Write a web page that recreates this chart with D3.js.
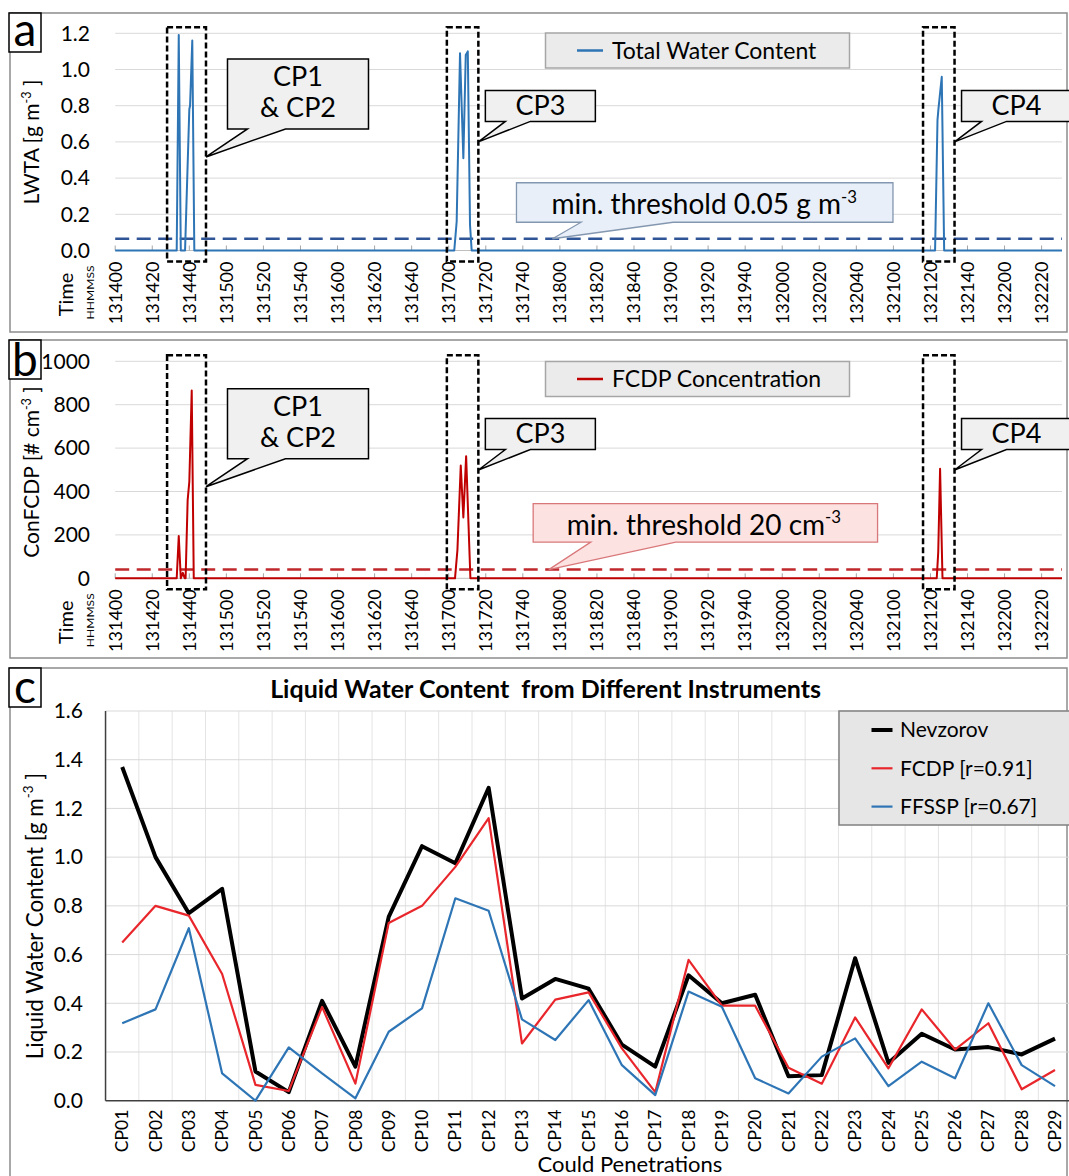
<!DOCTYPE html>
<html>
<head>
<meta charset="utf-8">
<script src="https://cdn.jsdelivr.net/npm/d3@7"></script>
<style>
  body { margin: 0; background: #fff; }
  svg { display: block; }
  text { font-family: Lato, "Open Sans", sans-serif; fill: #000; }
</style>
</head>
<body>
<svg id="fig" width="1069" height="1176"></svg>
<script>
// ===== Data =====
// Panel a: total water content (LWTA) samples, g m-3
const lwtaTimes  = ['13:14:00', '13:14:33.2', '13:14:34.3', '13:14:35.4', '13:14:37.7', '13:14:40', '13:14:40.4', '13:14:41.6', '13:14:42.7',
                    '13:17:03', '13:17:04.3', '13:17:06.1', '13:17:07.9', '13:17:09.2', '13:17:10.3', '13:17:11.5', '13:17:12.4',
                    '13:21:22.5', '13:21:23.8', '13:21:24.3', '13:21:26.1', '13:21:27.4', '13:22:31'];
const lwtaValues = [0, 0, 1.19, 0, 0, 0.78, 0.80, 1.16, 0,
                    0, 0.16, 1.09, 0.51, 1.08, 1.10, 0.14, 0,
                    0, 0.72, 0.78, 0.96, 0, 0];

// Panel b: FCDP concentration samples, # cm-3
const fcdpTimes  = ['13:14:00', '13:14:33.2', '13:14:34.3', '13:14:35.4', '13:14:36.5', '13:14:37.5', '13:14:38', '13:14:39.1', '13:14:40', '13:14:41.3', '13:14:42.4',
                    '13:17:03.4', '13:17:04.7', '13:17:06.5', '13:17:07.9', '13:17:09.4', '13:17:11.7',
                    '13:21:23.4', '13:21:24.2', '13:21:25.2', '13:21:26.5', '13:22:31'];
const fcdpValues = [0, 0, 195, 0, 25, 0, 0, 360, 445, 865, 0,
                    0, 130, 520, 280, 563, 0,
                    0, 120, 505, 0, 0];

const lwtaThreshold = 0.065;   // dashed line as drawn
const fcdpThreshold = 40;

// Dashed boxes around the cloud penetrations (start, end)
const cpBoxes = [['13:14:28', '13:14:49'], ['13:16:59', '13:17:16'], ['13:21:16', '13:21:33']];

// Panel c: LWC per cloud penetration, g m-3
const cpLabels = ['CP01','CP02','CP03','CP04','CP05','CP06','CP07','CP08','CP09','CP10','CP11','CP12','CP13','CP14','CP15',
                  'CP16','CP17','CP18','CP19','CP20','CP21','CP22','CP23','CP24','CP25','CP26','CP27','CP28','CP29'];
const nevzorov = [1.37, 1.00, 0.77, 0.87, 0.12, 0.035, 0.41, 0.14, 0.755, 1.045, 0.975, 1.285, 0.42, 0.50, 0.46,
                  0.23, 0.14, 0.515, 0.40, 0.435, 0.10, 0.105, 0.585, 0.155, 0.275, 0.21, 0.22, 0.19, 0.255];
const fcdpLwc  = [0.65, 0.80, 0.76, 0.52, 0.065, 0.04, 0.385, 0.07, 0.73, 0.80, 0.96, 1.16, 0.235, 0.415, 0.445,
                  0.215, 0.035, 0.578, 0.39, 0.39, 0.135, 0.07, 0.342, 0.133, 0.375, 0.21, 0.318, 0.047, 0.126];
const ffsspLwc = [0.318, 0.375, 0.708, 0.112, 0.0, 0.219, 0.112, 0.01, 0.283, 0.379, 0.831, 0.78, 0.334, 0.249, 0.413,
                  0.146, 0.023, 0.448, 0.386, 0.092, 0.03, 0.181, 0.256, 0.06, 0.16, 0.092, 0.40, 0.146, 0.06];

// ===== Helpers =====
const svg = d3.select('#fig');

function secs(s) {
    const p = s.split(':').map(Number);
    return p[0] * 3600 + p[1] * 60 + p[2];
}
function hhmmss(t) {
    const h = Math.floor(t / 3600), m = Math.floor((t % 3600) / 60), s = Math.round(t % 60);
    return [h, m, s].map(d => String(d).padStart(2, '0')).join('');
}

// text with a superscript part: parts = [[text, isSup], ...]
function richText(sel, parts, fontSize) {
    const shift = fontSize * 0.42;
    parts.forEach(([t, sup]) => {
        const ts = sel.append('tspan').text(t);
        if (sup) ts.attr('font-size', fontSize * 0.6).attr('dy', -shift);
        else if (ts.node().previousSibling) ts.attr('dy', shift);
    });
}

// speech-bubble box with a tail leaving the bottom edge
function bubble(g, o) {
    const p = d3.path();
    p.moveTo(o.x0, o.y0);
    p.lineTo(o.x1, o.y0);
    p.lineTo(o.x1, o.y1);
    p.lineTo(o.n1, o.y1);
    p.lineTo(o.tx, o.ty);
    p.lineTo(o.n0, o.y1);
    p.lineTo(o.x0, o.y1);
    p.closePath();
    g.append('path').attr('d', p.toString())
        .attr('fill', o.fill).attr('stroke', o.stroke).attr('stroke-width', o.sw || 1.5);
}

function panelFrame(top, bottom, letter, letterBase) {
    svg.append('rect').attr('x', 10).attr('y', top).attr('width', 1057).attr('height', bottom - top)
        .attr('fill', 'none').attr('stroke', '#8c8c8c').attr('stroke-width', 1.5);
    svg.append('rect').attr('x', 9).attr('y', top).attr('width', 32).attr('height', 39)
        .attr('fill', '#fff').attr('stroke', '#000').attr('stroke-width', 1.5);
    svg.append('text').attr('x', 25).attr('y', letterBase).attr('text-anchor', 'middle')
        .attr('font-size', 46).text(letter);
}

// ===== Panels a and b (time series) =====
const xT = d3.scaleLinear().domain([secs('13:14:00'), secs('13:22:31')]).range([115.2, 1062]);
const timeTicks = d3.range(secs('13:14:00'), secs('13:22:20') + 1, 20);

function timePanel(cfg) {
    const g = svg.append('g');
    const y = cfg.y;
    const [x0, x1] = xT.range();
    const y0 = y.range()[0], yTop = y.range()[1];

    // gridlines
    g.selectAll('.grid').data(cfg.yTicks.filter(d => d > 0)).join('line')
        .attr('x1', x0).attr('x2', x1).attr('y1', d => y(d)).attr('y2', d => y(d))
        .attr('stroke', '#d9d9d9').attr('stroke-width', 1);

    // x axis line + inside ticks
    g.append('line').attr('x1', x0).attr('x2', x1).attr('y1', y0).attr('y2', y0)
        .attr('stroke', '#bfbfbf').attr('stroke-width', 1);
    g.selectAll('.tk').data(timeTicks).join('line')
        .attr('x1', d => xT(d)).attr('x2', d => xT(d)).attr('y1', y0).attr('y2', y0 - 5)
        .attr('stroke', '#a6a6a6').attr('stroke-width', 1);

    // y tick labels
    g.selectAll('.yl').data(cfg.yTicks).join('text')
        .attr('x', 90).attr('y', d => y(d)).attr('dy', '0.35em')
        .attr('text-anchor', 'end').attr('font-size', 21).text(cfg.yFmt);

    // x tick labels, rotated
    g.selectAll('.xl').data(timeTicks).join('text')
        .attr('transform', d => `translate(${xT(d)},${y0 + 11}) rotate(-90)`)
        .attr('dy', '0.35em').attr('text-anchor', 'end').attr('font-size', 18)
        .text(hhmmss);

    // Time / HHMMSS
    g.append('text').attr('transform', `translate(66,${y0 + 44}) rotate(-90)`)
        .attr('dy', '0.35em').attr('text-anchor', 'middle').attr('font-size', 20).text('Time');
    g.append('text').attr('transform', `translate(90,${y0 + 42}) rotate(-90)`)
        .attr('dy', '0.35em').attr('text-anchor', 'middle').attr('font-size', 10)
        .attr('textLength', 54).attr('lengthAdjust', 'spacingAndGlyphs').text('HHMMSS');

    // y title
    const yt = g.append('text').attr('transform', `translate(32,${cfg.titleY}) rotate(-90)`)
        .attr('dy', '0.35em').attr('text-anchor', 'middle').attr('font-size', 21);
    richText(yt, cfg.title, 21);

    // threshold line
    g.append('line').attr('x1', x0).attr('x2', x1)
        .attr('y1', y(cfg.threshold)).attr('y2', y(cfg.threshold))
        .attr('stroke', cfg.thrColor).attr('stroke-width', 2.5).attr('stroke-dasharray', '14,7.5');

    // series
    const pts = cfg.times.map((t, i) => [secs(t), cfg.values[i]]);
    g.append('path').datum(pts)
        .attr('d', d3.line().x(d => xT(d[0])).y(d => y(d[1])))
        .attr('fill', 'none').attr('stroke', cfg.color).attr('stroke-width', 2).attr('stroke-linejoin', 'round');

    // dashed boxes around penetrations
    g.selectAll('.cpbox').data(cpBoxes).join('rect')
        .attr('x', d => xT(secs(d[0]))).attr('width', d => xT(secs(d[1])) - xT(secs(d[0])))
        .attr('y', yTop - 6).attr('height', y0 + 11 - (yTop - 6))
        .attr('fill', 'none').attr('stroke', '#000').attr('stroke-width', 2.5).attr('stroke-dasharray', '6,3');

    // legend box
    const lg = cfg.legendY;
    g.append('rect').attr('x', 545.5).attr('y', lg).attr('width', 304).attr('height', 35)
        .attr('fill', '#ebebeb').attr('stroke', '#a6a6a6').attr('stroke-width', 1.5);
    g.append('line').attr('x1', 577).attr('x2', 603).attr('y1', lg + 17.5).attr('y2', lg + 17.5)
        .attr('stroke', cfg.color).attr('stroke-width', 2.5);
    g.append('text').attr('x', 612).attr('y', lg + 17.5).attr('dy', '0.35em')
        .attr('font-size', 23).text(cfg.legend);

    // CP callouts
    cpBoxes.forEach((b, i) => {
        const tx = xT(secs(b[1])), ty = y(cfg.calloutAt[i]);
        const big = i === 0;
        const o = big
            ? { x0: tx + 21.5, x1: tx + 162.5, y0: ty - 98, y1: ty - 28, n0: tx + 41.5, n1: tx + 79.5 }
            : { x0: tx + 7, x1: tx + 117, y0: ty - 51.5, y1: ty - 20.5, n0: tx + 27, n1: tx + 52 };
        bubble(g, Object.assign(o, { tx, ty, fill: '#f0f0f0', stroke: '#000' }));
        const cx = (o.x0 + o.x1) / 2;
        const lines = big ? ['CP1', '& CP2'] : [i === 1 ? 'CP3' : 'CP4'];
        lines.forEach((s, k) => {
            g.append('text').attr('x', cx)
                .attr('y', big ? o.y0 + 18 + k * 31 : (o.y0 + o.y1) / 2)
                .attr('dy', '0.35em').attr('text-anchor', 'middle').attr('font-size', 27).text(s);
        });
    });

    // threshold callout
    const c = cfg.thrCallout;
    const tx = xT(secs(c.at)), ty = y(cfg.threshold);
    bubble(g, { x0: tx + c.box[0], x1: tx + c.box[1], y0: ty + c.box[2], y1: ty + c.box[3],
                n0: tx + c.notch[0], n1: tx + c.notch[1], tx, ty, fill: c.fill, stroke: c.stroke, sw: 1.3 });
    const tt = g.append('text').attr('x', tx + c.textDx).attr('y', ty + (c.box[2] + c.box[3]) / 2 + 2)
        .attr('dy', '0.35em').attr('font-size', 28);
    richText(tt, c.text, 28);
}

panelFrame(13, 332, 'a', 46);
timePanel({
    y: d3.scaleLinear().domain([0, 1.2]).range([250.5, 33.3]),
    yTicks: [0, 0.2, 0.4, 0.6, 0.8, 1.0, 1.2], yFmt: d3.format('.1f'),
    times: lwtaTimes, values: lwtaValues, color: '#2e75b6',
    threshold: lwtaThreshold, thrColor: '#2f5597',
    title: [['LWTA  [g m', false], ['-3', true], [' ]', false]], titleY: 142,
    legend: 'Total Water Content', legendY: 33,
    calloutAt: [0.517, 0.60, 0.60],
    thrCallout: { at: '13:17:56', box: [-36, 340.5, -56, -16.5], notch: [28.6, 120.6], textDx: -1,
                  fill: '#e9eff8', stroke: '#8497b0',
                  text: [['min. threshold 0.05 g m', false], ['-3', true]] }
});

panelFrame(340, 658, 'b', 376);
timePanel({
    y: d3.scaleLinear().domain([0, 1000]).range([578.3, 361.3]),
    yTicks: [0, 200, 400, 600, 800, 1000], yFmt: d3.format('d'),
    times: fcdpTimes, values: fcdpValues, color: '#c00000',
    threshold: fcdpThreshold, thrColor: '#c0282d',
    title: [['ConFCDP  [# cm', false], ['-3', true], [' ]', false]], titleY: 472,
    legend: 'FCDP Concentration', legendY: 361.5,
    calloutAt: [422, 499, 499],
    thrCallout: { at: '13:17:54', box: [-15.6, 328.8, -66, -27.5], notch: [42, 127], textDx: 18,
                  fill: '#fde2e2', stroke: '#d9787a',
                  text: [['min. threshold 20 cm', false], ['-3', true]] }
});

// ===== Panel c: LWC per cloud penetration =====
panelFrame(668, 1190, 'c', 703);
{
    const g = svg.append('g');
    const yC = d3.scaleLinear().domain([0, 1.6]).range([1100.7, 711]);
    const xC = d3.scalePoint().domain(cpLabels).range([122.2, 1055]);
    const step = xC.step();
    const left = xC(cpLabels[0]) - step / 2;
    const yTicks = d3.range(0, 1.61, 0.2);

    // vertical gridlines at category boundaries
    g.selectAll('.vg').data(cpLabels).join('line')
        .attr('x1', d => xC(d) + step / 2).attr('x2', d => xC(d) + step / 2)
        .attr('y1', yC(1.6)).attr('y2', yC(0))
        .attr('stroke', '#e4e4e4').attr('stroke-width', 1);
    // horizontal gridlines
    g.selectAll('.hg').data(yTicks.slice(1)).join('line')
        .attr('x1', left).attr('x2', 1069).attr('y1', d => yC(d)).attr('y2', d => yC(d))
        .attr('stroke', '#d9d9d9').attr('stroke-width', 1);

    // axes
    g.append('line').attr('x1', left).attr('x2', left).attr('y1', yC(1.6)).attr('y2', yC(0))
        .attr('stroke', '#404040').attr('stroke-width', 1.5);
    g.append('line').attr('x1', left).attr('x2', 1069).attr('y1', yC(0)).attr('y2', yC(0))
        .attr('stroke', '#404040').attr('stroke-width', 1.5);

    g.selectAll('.yl').data(yTicks).join('text')
        .attr('x', 83).attr('y', d => yC(d)).attr('dy', '0.35em')
        .attr('text-anchor', 'end').attr('font-size', 21).text(d3.format('.1f'));
    g.selectAll('.xl').data(cpLabels).join('text')
        .attr('transform', d => `translate(${xC(d)},${yC(0) + 9}) rotate(-90)`)
        .attr('dy', '0.35em').attr('text-anchor', 'end').attr('font-size', 17.5).text(d => d);

    // titles
    g.append('text').attr('x', 545.6).attr('y', 698).attr('text-anchor', 'middle')
        .attr('font-size', 25).attr('font-weight', 'bold')
        .attr('xml:space', 'preserve').text('Liquid Water Content  from Different Instruments');
    g.append('text').attr('x', 537.6).attr('y', 1172).attr('font-size', 22).text('Could Penetrations');
    const yt = g.append('text').attr('transform', 'translate(35,916) rotate(-90)')
        .attr('dy', '0.35em').attr('text-anchor', 'middle').attr('font-size', 22.5);
    richText(yt, [['Liquid Water Content [g m', false], ['-3', true], [' ]', false]], 22.5);

    // series
    const series = [
        { name: 'Nevzorov',       values: nevzorov, color: '#000000', width: 4 },
        { name: 'FCDP [r=0.91]',  values: fcdpLwc,  color: '#e8262b', width: 2.2 },
        { name: 'FFSSP [r=0.67]', values: ffsspLwc, color: '#2e75b6', width: 2.2 }
    ];
    const line = d3.line().x((d, i) => xC(cpLabels[i])).y(d => yC(d));
    series.forEach(s => {
        g.append('path').datum(s.values).attr('d', line)
            .attr('fill', 'none').attr('stroke', s.color).attr('stroke-width', s.width)
            .attr('stroke-linejoin', 'round');
    });

    // legend
    g.append('rect').attr('x', 839).attr('y', 711).attr('width', 250).attr('height', 114)
        .attr('fill', '#e6e6e6').attr('stroke', '#808080').attr('stroke-width', 1.5);
    series.forEach((s, i) => {
        const ly = 730 + i * 38.3;
        g.append('line').attr('x1', 871.5).attr('x2', 892.5).attr('y1', ly).attr('y2', ly)
            .attr('stroke', s.color).attr('stroke-width', s.width);
        g.append('text').attr('x', 900).attr('y', ly).attr('dy', '0.35em')
            .attr('font-size', 21).text(s.name);
    });
}
</script>
</body>
</html>
